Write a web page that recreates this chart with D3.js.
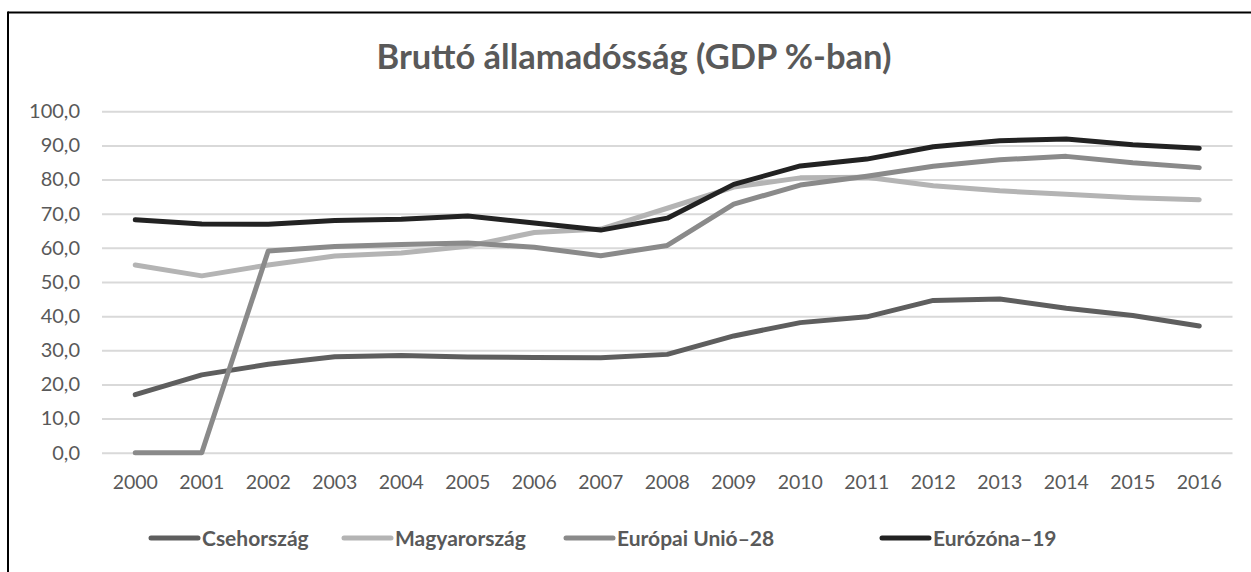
<!DOCTYPE html>
<html>
<head>
<meta charset="utf-8">
<script src="https://cdn.jsdelivr.net/npm/d3@7"></script>
<style>
  html, body { margin: 0; padding: 0; background: #fff; }
  svg { display: block; }
  text { font-family: Lato, "Open Sans", sans-serif; }
</style>
</head>
<body>
<svg id="chart" width="1251" height="572"></svg>
<script>
const title = "Bruttó államadósság (GDP %-ban)";
const years = ["2000","2001","2002","2003","2004","2005","2006","2007","2008","2009","2010","2011","2012","2013","2014","2015","2016"];
const seriesNames = ["Csehország", "Magyarország", "Európai Unió–28", "Eurózóna–19"];
const czech    = [17.0, 22.8, 25.9, 28.1, 28.5, 28.0, 27.9, 27.8, 28.8, 34.2, 38.1, 39.8, 44.6, 45.0, 42.3, 40.2, 37.1];
const hungary  = [55.0, 51.8, 55.0, 57.6, 58.5, 60.5, 64.5, 65.5, 71.6, 77.8, 80.5, 80.7, 78.2, 76.7, 75.7, 74.7, 74.1];
const eu28     = [0.0, 0.0, 59.1, 60.4, 61.0, 61.4, 60.2, 57.7, 60.7, 72.8, 78.4, 81.0, 83.9, 85.8, 86.8, 84.9, 83.5];
const ez19     = [68.2, 67.0, 66.9, 68.0, 68.4, 69.3, 67.3, 65.2, 68.7, 78.6, 84.0, 86.0, 89.6, 91.4, 91.9, 90.2, 89.2];
const yTicks   = [0, 10, 20, 30, 40, 50, 60, 70, 80, 90, 100];
const colors   = ["#5e5e5e", "#b4b4b4", "#8a8a8a", "#222222"];

const allSeries = [czech, hungary, eu28, ez19];

const svg = d3.select("#chart");

// frame (top and left border)
svg.append("line").attr("x1", 8).attr("x2", 1251).attr("y1", 12.5).attr("y2", 12.5)
  .attr("stroke", "#000").attr("stroke-width", 2);
svg.append("line").attr("x1", 8).attr("x2", 8).attr("y1", 11.5).attr("y2", 572)
  .attr("stroke", "#000").attr("stroke-width", 2);

const x = d3.scaleBand().domain(years).range([102, 1232.5]);
const xc = d => x(d) + x.bandwidth() / 2;
const y = d3.scaleLinear().domain([0, 100]).range([452.7, 111.3]);

// title
svg.append("text").attr("x", 634).attr("y", 69).attr("text-anchor", "middle")
  .attr("font-size", 34.5).attr("font-weight", "bold").attr("fill", "#595959").text(title);

// gridlines + y labels
const yAxis = d3.axisLeft(y).tickValues(yTicks)
  .tickSize(-(1232.5 - 102))
  .tickFormat(d => d3.format(".1f")(d).replace(".", ","))
  .tickPadding(22);
const gy = svg.append("g").attr("transform", "translate(102,0)").call(yAxis);
gy.select(".domain").remove();
gy.selectAll(".tick line").attr("stroke", "#d9d9d9").attr("stroke-width", 2);
gy.selectAll(".tick text").attr("font-size", 20).attr("fill", "#595959")
  .attr("font-family", "Lato, 'Open Sans', sans-serif");

// x axis labels
const xAxis = d3.axisBottom(x).tickSize(0).tickPadding(22);
const gx = svg.append("g").attr("transform", "translate(0,452.7)").call(xAxis);
gx.select(".domain").remove();
gx.selectAll(".tick text").attr("font-size", 19.5).attr("fill", "#595959")
  .attr("font-family", "Lato, 'Open Sans', sans-serif");

// lines
const line = d3.line().x((d, i) => xc(years[i])).y(d => y(d)).curve(d3.curveLinear);
allSeries.forEach((s, k) => {
  svg.append("path").datum(s).attr("d", line)
    .attr("fill", "none").attr("stroke", colors[k]).attr("stroke-width", 5)
    .attr("stroke-linejoin", "round").attr("stroke-linecap", "round");
});

// legend
const legendX = [151, 344, 566, 882];
const legendY = 538;
seriesNames.forEach((n, k) => {
  const g = svg.append("g");
  g.append("line").attr("x1", legendX[k]).attr("x2", legendX[k] + 47)
    .attr("y1", legendY).attr("y2", legendY)
    .attr("stroke", colors[k]).attr("stroke-width", 5).attr("stroke-linecap", "round");
  g.append("text").attr("x", legendX[k] + 51).attr("y", legendY + 7.5)
    .attr("font-size", 21).attr("font-weight", "bold").attr("fill", "#595959").text(n);
});
</script>
</body>
</html>
